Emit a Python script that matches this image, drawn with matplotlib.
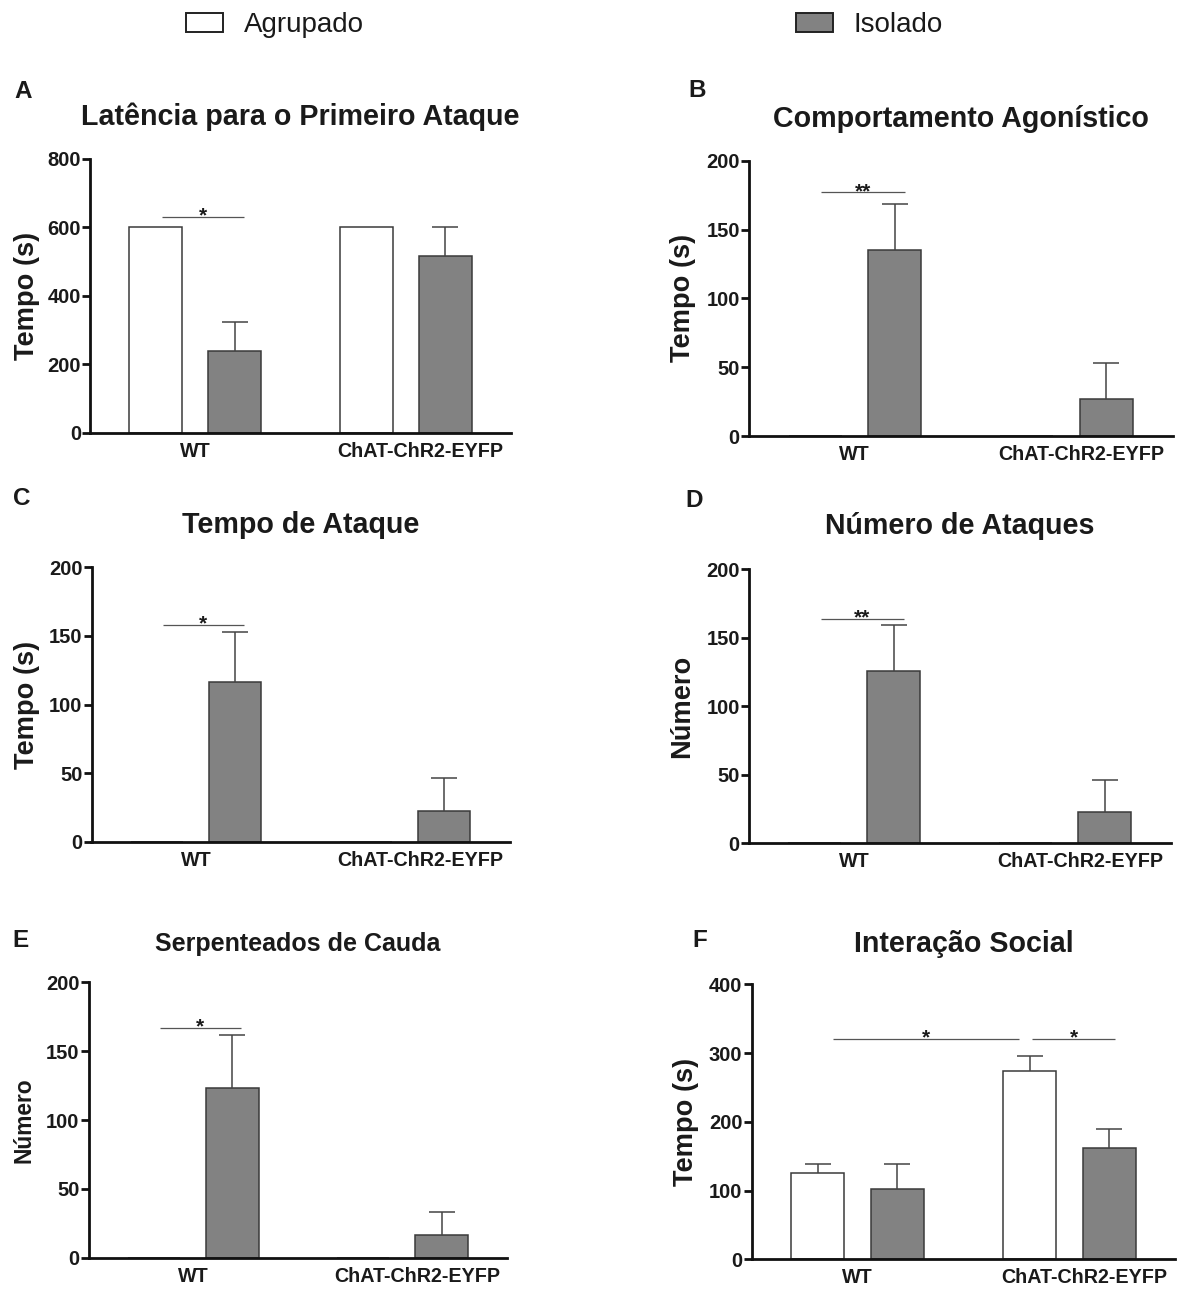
import matplotlib
matplotlib.use("Agg")
import matplotlib.pyplot as plt
from matplotlib.patches import Rectangle
from matplotlib.transforms import ScaledTranslation
import numpy as np

plt.rcParams["font.family"] = ["Liberation Sans", "DejaVu Sans"]

W, H, DPI = 1184, 1289, 100

# ---------------- data ----------------
groups = ["WT", "ChAT-ChR2-EYFP"]
conditions = ["Agrupado", "Isolado"]

# A - latency to first attack (s)
latencia_agrupado = [600, 600]
latencia_agrupado_sem = [0, 0]
latencia_isolado = [238, 516]
latencia_isolado_sem = [87, 84]

# B - agonistic behaviour (s)
agonistico_agrupado = [0, 0]
agonistico_agrupado_sem = [0, 0]
agonistico_isolado = [135, 26.6]
agonistico_isolado_sem = [33.5, 26.4]

# C - attack time (s)
tempo_ataque_agrupado = [0, 0]
tempo_ataque_agrupado_sem = [0, 0]
tempo_ataque_isolado = [116.6, 22.6]
tempo_ataque_isolado_sem = [36, 23.6]

# D - number of attacks
num_ataques_agrupado = [0, 0]
num_ataques_agrupado_sem = [0, 0]
num_ataques_isolado = [125.5, 22.6]
num_ataques_isolado_sem = [33.5, 23.6]

# E - tail rattles
cauda_agrupado = [0, 0]
cauda_agrupado_sem = [0, 0]
cauda_isolado = [123.2, 16.7]
cauda_isolado_sem = [38.5, 16.7]

# F - social interaction (s)
social_agrupado = [125.6, 274]
social_agrupado_sem = [12.4, 21]
social_isolado = [101.8, 162.4]
social_isolado_sem = [37.2, 27.6]

# significance brackets: (x start, x end, height, label)
sig_A = [(-0.16, 0.23, 630, "*")]
sig_B = [(-0.16, 0.235, 177, "**")]
sig_C = [(-0.16, 0.23, 158, "*")]
sig_D = [(-0.16, 0.235, 164, "**")]
sig_E = [(-0.16, 0.23, 167, "*")]
sig_F = [(-0.116, 0.761, 320, "*"), (0.825, 1.215, 320, "*")]

yticks_A = [0, 200, 400, 600, 800]
yticks_200 = [0, 50, 100, 150, 200]
yticks_F = [0, 100, 200, 300, 400]

# ---------------- style ----------------
WHITE = "white"
GRAY = "#828282"
EDGE = "#3a3a3a"
ERR = "#444444"
AXIS = "#111111"
TXT = "#1a1a1a"

fig = plt.figure(figsize=(W / DPI, H / DPI), dpi=DPI)


def axes_px(l, t, r, b):
    return fig.add_axes([l / W, 1 - b / H, (r - l) / W, (b - t) / H])


panels = [
    dict(letter="A", letter_xy=(14, 98.3), box=(90, 159, 511, 432.7),
         title="Latência para o Primeiro Ataque", title_base=125.3, title_fs=20.6,
         ylabel="Tempo (s)", ylabel_cx=27, ylabel_fs=19.6,
         agr=latencia_agrupado, agr_sem=latencia_agrupado_sem,
         iso=latencia_isolado, iso_sem=latencia_isolado_sem,
         yticks=yticks_A, sig=sig_A),
    dict(letter="B", letter_xy=(688, 97), box=(748.8, 160.7, 1172.7, 436),
         title="Comportamento Agonístico", title_base=126.7, title_fs=20.6,
         ylabel="Tempo (s)", ylabel_cx=683, ylabel_fs=19.6,
         agr=agonistico_agrupado, agr_sem=agonistico_agrupado_sem,
         iso=agonistico_isolado, iso_sem=agonistico_isolado_sem,
         yticks=yticks_200, sig=sig_B),
    dict(letter="C", letter_xy=(13, 505.5), box=(91.5, 567.3, 509.6, 841.7),
         title="Tempo de Ataque", title_base=532.7, title_fs=20.6,
         ylabel="Tempo (s)", ylabel_cx=26.5, ylabel_fs=19.6,
         agr=tempo_ataque_agrupado, agr_sem=tempo_ataque_agrupado_sem,
         iso=tempo_ataque_isolado, iso_sem=tempo_ataque_isolado_sem,
         yticks=yticks_200, sig=sig_C),
    dict(letter="D", letter_xy=(685, 507), box=(748.8, 569.3, 1170.8, 843.3),
         title="Número de Ataques", title_base=534, title_fs=20.6,
         ylabel="Número", ylabel_cx=682, ylabel_fs=19.6,
         agr=num_ataques_agrupado, agr_sem=num_ataques_agrupado_sem,
         iso=num_ataques_isolado, iso_sem=num_ataques_isolado_sem,
         yticks=yticks_200, sig=sig_D),
    dict(letter="E", letter_xy=(12, 947), box=(88.5, 982.3, 507, 1257.7),
         title="Serpenteados de Cauda", title_base=950.7, title_fs=18,
         ylabel="Número", ylabel_cx=23.6, ylabel_fs=16.4,
         agr=cauda_agrupado, agr_sem=cauda_agrupado_sem,
         iso=cauda_isolado, iso_sem=cauda_isolado_sem,
         yticks=yticks_200, sig=sig_E),
    dict(letter="F", letter_xy=(692, 947), box=(751.5, 984.3, 1175.4, 1259.3),
         title="Interação Social", title_base=951.7, title_fs=20.6,
         ylabel="Tempo (s)", ylabel_cx=686, ylabel_fs=19.6,
         agr=social_agrupado, agr_sem=social_agrupado_sem,
         iso=social_isolado, iso_sem=social_isolado_sem,
         yticks=yticks_F, sig=sig_F),
]

BAR_W = 0.25
OFF = 0.1875
x = np.arange(len(groups))
# the long genotype label sits a little right of its group centre
label_shift_px = [0, 15]


def draw_errors(ax, xs, ys, sem):
    xs, ys, sem = np.asarray(xs), np.asarray(ys, float), np.asarray(sem, float)
    keep = sem > 0
    if not keep.any():
        return
    eb = ax.errorbar(xs[keep], ys[keep], yerr=[np.zeros(keep.sum()), sem[keep]],
                     fmt="none", ecolor=ERR, elinewidth=1.1, capsize=9.5,
                     capthick=1.1, zorder=3)
    # one-sided (upper) error bars: hide the cap drawn at the mean
    eb.lines[1][0].set_visible(False)


for p in panels:
    l, t, r, b = p["box"]
    ax = axes_px(l, t, r, b)

    ax.bar(x - OFF, p["agr"], width=BAR_W, color=WHITE, edgecolor=EDGE,
           linewidth=1.1, zorder=2, label=conditions[0])
    ax.bar(x + OFF, p["iso"], width=BAR_W, color=GRAY, edgecolor=EDGE,
           linewidth=1.1, zorder=2, label=conditions[1])
    draw_errors(ax, x - OFF, p["agr"], p["agr_sem"])
    draw_errors(ax, x + OFF, p["iso"], p["iso_sem"])

    for x0, x1, yv, lab in p["sig"]:
        ax.plot([x0, x1], [yv, yv], color="#555555", lw=0.9, zorder=3,
                clip_on=False, solid_capstyle="butt")
        ax.annotate(lab, xy=((x0 + x1) / 2, yv), xytext=(0, -3.3),
                    textcoords="offset points", ha="center", va="baseline",
                    fontsize=15, fontweight="bold", color=TXT)

    ax.set_xlim(-0.5, 1.5)
    ax.set_ylim(p["yticks"][0], p["yticks"][-1])
    ax.set_yticks(p["yticks"])
    ax.set_xticks(x)
    ax.set_xticklabels(groups)

    for s in ("top", "right"):
        ax.spines[s].set_visible(False)
    for s in ("left", "bottom"):
        ax.spines[s].set_linewidth(2.0)
        ax.spines[s].set_color(AXIS)
        ax.spines[s].set_capstyle("projecting")

    ax.tick_params(axis="y", length=5.5, width=2.0, color=AXIS, pad=1,
                   labelsize=14.5, labelcolor=TXT)
    ax.tick_params(axis="x", length=0, pad=6.5, labelsize=14.2, labelcolor=TXT)
    for lbl in ax.get_xticklabels() + ax.get_yticklabels():
        lbl.set_fontweight("bold")
    for lbl, dx in zip(ax.get_xticklabels(), label_shift_px):
        lbl.set_transform(lbl.get_transform()
                          + ScaledTranslation(dx / DPI, 0, fig.dpi_scale_trans))

    ax.set_ylabel(p["ylabel"], fontsize=p["ylabel_fs"], fontweight="bold",
                  color=TXT, va="center", ha="center")
    ax.yaxis.set_label_coords((p["ylabel_cx"] - l) / (r - l), 0.5)

    ax.text(0.5, (b - p["title_base"]) / (b - t), p["title"],
            transform=ax.transAxes, ha="center", va="baseline",
            fontsize=p["title_fs"], fontweight="bold", color=TXT)

    lx, ly = p["letter_xy"]
    fig.text(lx / W, 1 - ly / H, p["letter"], ha="left", va="baseline",
             fontsize=17.5, fontweight="bold", color=TXT)

# ---------------- legend ----------------
legend_items = [(186, 243.5, WHITE), (796, 854, GRAY)]
for (bx, tx, fc), name in zip(legend_items, conditions):
    fig.patches.append(Rectangle((bx / W, 1 - 32.3 / H), 37 / W, 19.6 / H,
                                 transform=fig.transFigure, facecolor=fc,
                                 edgecolor="#222222", linewidth=1.4))
    fig.text(tx / W, 1 - 31.7 / H, name, ha="left", va="baseline",
             fontsize=20, color=TXT)

fig.savefig("out.png", dpi=DPI, facecolor="white")
